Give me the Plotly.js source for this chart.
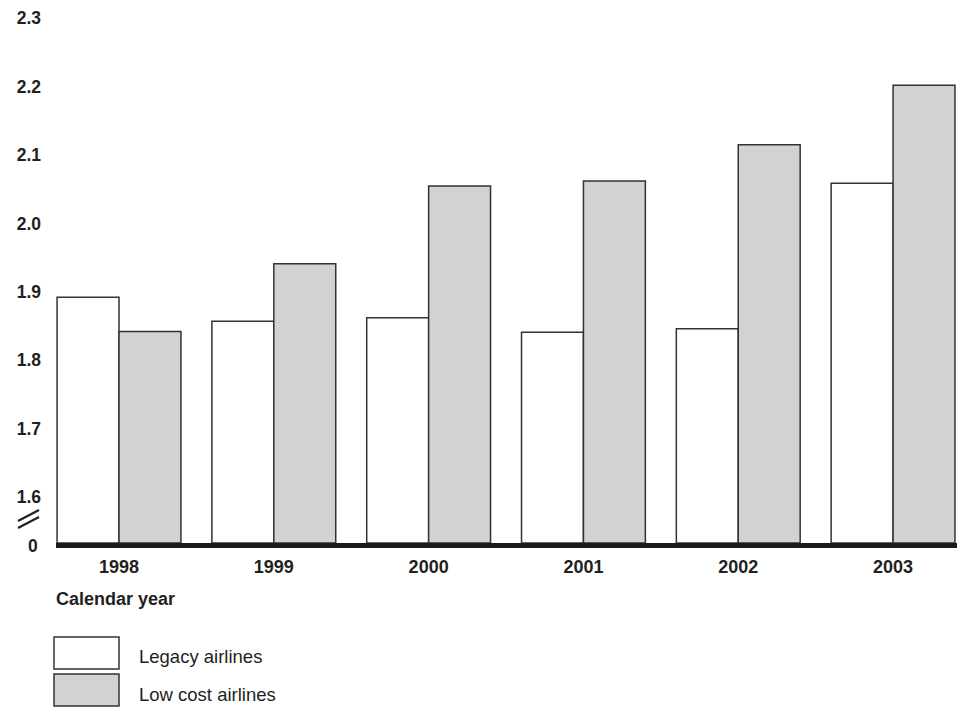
<!DOCTYPE html>
<html>
<head>
<meta charset="utf-8">
<script src="https://cdn.plot.ly/plotly-3.0.1.min.js"></script>
<style>html,body{margin:0;padding:0;background:#fff;}#chart{width:962px;height:707px;}</style>
</head>
<body>
<div id="chart"></div>
<script>
const years = ['1998', '1999', '2000', '2001', '2002', '2003'];
const legacy = [1.892, 1.857, 1.862, 1.841, 1.846, 2.059];
const lowCost = [1.842, 1.941, 2.055, 2.062, 2.115, 2.202];
const seriesNames = ['Legacy airlines', 'Low cost airlines'];
const yTickVals = [1.6, 1.7, 1.8, 1.9, 2.0, 2.1, 2.2, 2.3];
const yTickText = ['1.6', '1.7', '1.8', '1.9', '2.0', '2.1', '2.2', '2.3'];
const yBase = 1.5327;

const W = 962, H = 707;
const M = {l: 56, r: 5, t: 17, b: 164};
const pw = W - M.l - M.r, ph = H - M.t - M.b;
const fx = p => (p - M.l) / pw;
const fy = p => (H - M.b - p) / ph;

const txt = '#231f20';
const edge = '#333333';
const grey = '#d1d2d4';
const font = 'Liberation Sans, Arial, Helvetica, sans-serif';

const traces = [
  {type: 'bar', x: years, y: legacy.map(v => v - yBase), base: yBase, name: seriesNames[0],
   marker: {color: '#ffffff', line: {color: edge, width: 1.5}}, hoverinfo: 'skip'},
  {type: 'bar', x: years, y: lowCost.map(v => v - yBase), base: yBase, name: seriesNames[1],
   marker: {color: grey, line: {color: edge, width: 1.5}}, hoverinfo: 'skip'}
];

const shapes = [
  {type: 'line', xref: 'paper', yref: 'paper', x0: fx(18), y0: fy(521), x1: fx(39), y1: fy(510), line: {color: txt, width: 2.2}},
  {type: 'line', xref: 'paper', yref: 'paper', x0: fx(18), y0: fy(528), x1: fx(39), y1: fy(517), line: {color: txt, width: 2.2}},
  {type: 'rect', xref: 'paper', yref: 'paper', x0: fx(54), x1: fx(119), y0: fy(669), y1: fy(637), fillcolor: '#ffffff', line: {color: edge, width: 1.5}},
  {type: 'rect', xref: 'paper', yref: 'paper', x0: fx(54), x1: fx(119), y0: fy(706), y1: fy(674), fillcolor: grey, line: {color: edge, width: 1.5}}
];

const annotations = [
  {xref: 'paper', yref: 'paper', x: fx(54), y: fy(599), xanchor: 'left', yanchor: 'middle', showarrow: false,
   text: 'Calendar year', font: {family: font, size: 18, color: txt, weight: 'bold'}},
  {xref: 'paper', yref: 'paper', x: fx(137), y: fy(656), xanchor: 'left', yanchor: 'middle', showarrow: false,
   text: seriesNames[0], font: {family: font, size: 18.5, color: txt}},
  {xref: 'paper', yref: 'paper', x: fx(137), y: fy(694), xanchor: 'left', yanchor: 'middle', showarrow: false,
   text: seriesNames[1], font: {family: font, size: 18.5, color: txt}},
  {xref: 'paper', yref: 'paper', x: fx(40), y: fy(546), xanchor: 'right', yanchor: 'middle', showarrow: false,
   text: '0', font: {family: font, size: 17.5, color: txt, weight: 'bold'}}
];

const layout = {
  width: W, height: H,
  margin: M,
  paper_bgcolor: '#ffffff', plot_bgcolor: '#ffffff',
  showlegend: false,
  barmode: 'group', bargap: 0.2, bargroupgap: 0,
  xaxis: {type: 'category', range: [-0.407, 5.413], showline: true, linecolor: '#1a1a1a', linewidth: 5,
          showgrid: false, zeroline: false, ticks: '', ticklabelstandoff: 3,
          tickfont: {family: font, size: 18, color: txt, weight: 'bold'}},
  yaxis: {range: [yBase, 2.302], showline: false, showgrid: false, zeroline: false, ticks: '',
          tickvals: yTickVals, ticktext: yTickText,
          ticklabelstandoff: 14,
          tickfont: {family: font, size: 17.5, color: txt, weight: 'bold'}},
  shapes: shapes,
  annotations: annotations
};

Plotly.newPlot('chart', traces, layout, {displayModeBar: false, staticPlot: true});
</script>
</body>
</html>
